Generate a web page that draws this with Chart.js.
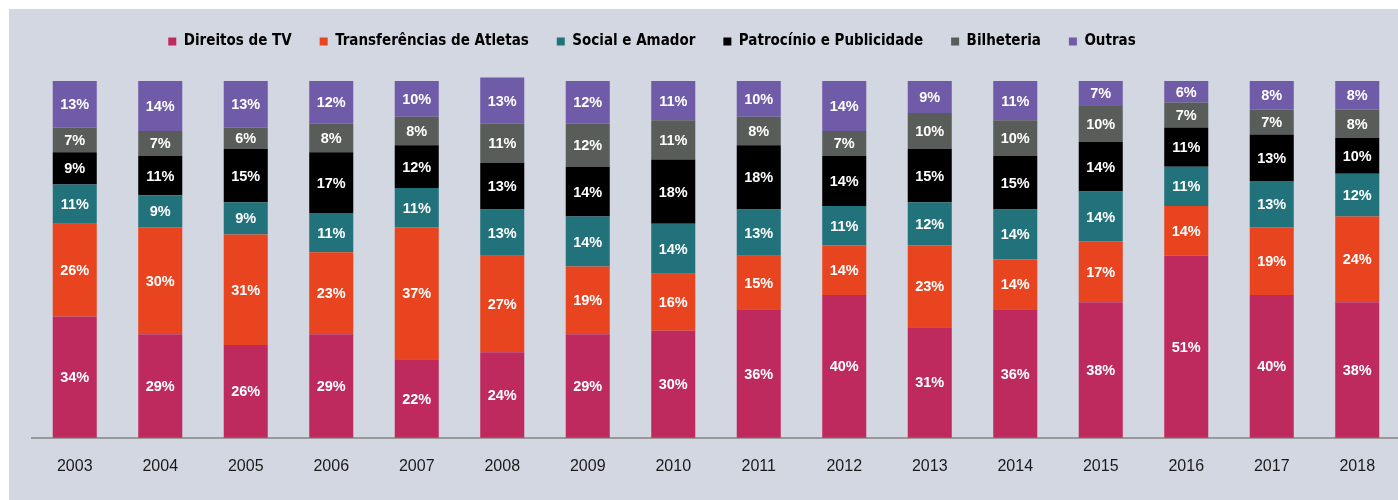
<!DOCTYPE html>
<html>
<head>
<meta charset="utf-8">
<script src="https://cdn.jsdelivr.net/npm/chart.js@4.4.0/dist/chart.umd.min.js"></script>
<style>
  body { margin: 0; background: #ffffff; }
  #wrap { position: absolute; left: 9px; top: 9px; width: 1389px; height: 491px; background: #d3d7e2; overflow: hidden; }
  #chart { position: absolute; left: 0; top: 0; }
</style>
</head>
<body>
<div id="wrap"><canvas id="chart" width="1391" height="491" style="width:1391px;height:491px"></canvas></div>
<script>
const years = ["2003", "2004", "2005", "2006", "2007", "2008", "2009", "2010", "2011", "2012", "2013", "2014", "2015", "2016", "2017", "2018"];
const direitosTV =      [34, 29, 26, 29, 22, 24, 29, 30, 36, 40, 31, 36, 38, 51, 40, 38];
const transferencias =  [26, 30, 31, 23, 37, 27, 19, 16, 15, 14, 23, 14, 17, 14, 19, 24];
const socialAmador =    [11,  9,  9, 11, 11, 13, 14, 14, 13, 11, 12, 14, 14, 11, 13, 12];
const patrocinio =      [ 9, 11, 15, 17, 12, 13, 14, 18, 18, 14, 15, 15, 14, 11, 13, 10];
const bilheteria =      [ 7,  7,  6,  8,  8, 11, 12, 11,  8,  7, 10, 10, 10,  7,  7,  8];
const outras =          [13, 14, 13, 12, 10, 13, 12, 11, 10, 14,  9, 11,  7,  6,  8,  8];

const seriesNames = ["Direitos de TV", "Transferências de Atletas", "Social e Amador", "Patrocínio e Publicidade", "Bilheteria", "Outras"];
const seriesData = [direitosTV, transferencias, socialAmador, patrocinio, bilheteria, outras];
const seriesColors = ["#be2a5e", "#e8441f", "#21727a", "#000000", "#585d5a", "#6f5ba7"];

// labels inside each segment
const segmentLabels = {
    id: "segmentLabels",
    afterDatasetsDraw(chart) {
        const c = chart.ctx;
        c.save();
        c.fillStyle = "#ffffff";
        c.font = "bold 14.5px 'Liberation Sans', Arial, sans-serif";
        c.textAlign = "center";
        c.textBaseline = "middle";
        chart.data.datasets.forEach((ds, i) => {
            chart.getDatasetMeta(i).data.forEach((bar, j) => {
                c.fillText(ds.data[j] + "%", bar.x, (bar.y + bar.base) / 2 + 1);
            });
        });
        c.restore();
    }
};

// place the legend like the original (a bit left of centre, close to the top)
const legendNudge = {
    id: "legendNudge",
    beforeLayout(chart) {
        const lg = chart.legend;
        if (lg && !lg._fitWrapped) {
            const fit = lg.fit;
            lg.fit = function () { fit.call(this); this.height = 72; };
            lg._fitWrapped = true;
        }
    },
    afterLayout(chart) {
        const lg = chart.legend;
        lg.left -= 64; lg.right -= 64;
        lg.top -= 3; lg.bottom -= 3;
    }
};

const ctx = document.getElementById("chart");
new Chart(ctx, {
    type: "bar",
    data: {
        labels: years,
        datasets: seriesNames.map((name, i) => ({
            label: name,
            data: seriesData[i],
            backgroundColor: seriesColors[i],
            borderWidth: 0,
            categoryPercentage: 1,
            barPercentage: 0.515,
            clip: false
        }))
    },
    options: {
        responsive: false,
        animation: false,
        layout: { padding: { left: 23, right: 0, top: 0, bottom: 13 } },
        plugins: {
            tooltip: { enabled: false },
            legend: {
                position: "top",
                labels: {
                    boxWidth: 8,
                    boxHeight: 8,
                    padding: 28,
                    color: "#000000",
                    font: { family: "'Liberation Sans Narrow', 'DejaVu Sans Condensed', sans-serif", size: 15, weight: "bold" }
                }
            }
        },
        scales: {
            x: {
                stacked: true,
                grid: { display: false },
                border: { display: true, color: "#999999", width: 2 },
                ticks: { color: "#1a1a1a", padding: 11, font: { family: "'Liberation Sans', Arial, sans-serif", size: 16 } }
            },
            y: {
                stacked: true,
                display: false,
                min: 0,
                max: 100
            }
        }
    },
    plugins: [segmentLabels, legendNudge]
});
</script>
</body>
</html>
